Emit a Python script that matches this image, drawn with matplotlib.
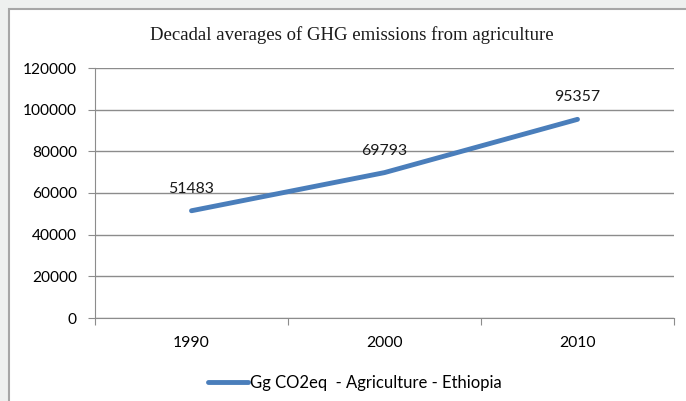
import matplotlib.pyplot as plt
from matplotlib.patches import Rectangle

# --- Data ---
years = ['1990', '2000', '2010']
emissions = [51483, 69793, 95357]
series_name = 'Gg CO2eq  - Agriculture - Ethiopia'
chart_title = 'Decadal averages of GHG emissions from agriculture'

fig = plt.figure(figsize=(6.86, 4.01), dpi=100)
fig.patch.set_facecolor('#eef0ef')

# white chart box with grey border (Excel style)
fig.patches.append(Rectangle((9 / 686, -0.05), 1.0, (401 - 9) / 401 + 0.05,
                             transform=fig.transFigure, facecolor='white',
                             edgecolor='#a6a6a6', linewidth=1.5, zorder=-10))

ax = fig.add_axes([95 / 686, 83 / 401, 579 / 686, 250 / 401])
ax.set_facecolor('none')
x = list(range(len(years)))
ax.plot(x, emissions, color='#4a7ebb', linewidth=3.5, solid_capstyle='round', zorder=3)

for xi, val in zip(x, emissions):
    ax.annotate(str(val), (xi, val), xytext=(0, 13), textcoords='offset points',
                ha='center', va='baseline', fontsize=11.4, family='Lato', color='#1a1a1a')

ax.set_xlim(-0.5, len(years) - 0.5)
ax.set_ylim(0, 120000)
ax.set_yticks(range(0, 120001, 20000))
ax.set_yticklabels([str(v) for v in range(0, 120001, 20000)], fontsize=11.2, family='Lato')
ax.grid(axis='y', color='#8c8c8c', linewidth=1.0)
ax.set_axisbelow(True)

# category labels between boundary tick marks
ax.set_xticks([i - 0.5 for i in range(len(years) + 1)])
ax.set_xticklabels([])
ax.set_xticks(x, minor=True)
ax.set_xticklabels(years, minor=True, fontsize=11.3, family='Lato')
ax.tick_params(axis='x', which='minor', length=0, pad=13)
ax.tick_params(axis='x', which='major', length=5, color='#8c8c8c')
ax.tick_params(axis='y', length=5, color='#8c8c8c', pad=8)

for side in ['top', 'right']:
    ax.spines[side].set_visible(False)
for side in ['left', 'bottom']:
    ax.spines[side].set_color('#8c8c8c')

fig.text(352 / 686, 1 - 35 / 401, chart_title, ha='center', va='center',
         fontsize=13.5, family='Liberation Serif', color='#1a1a1a')

leg = ax.legend([series_name], loc='center', bbox_to_anchor=(0.449, -0.26),
                frameon=False, handlelength=2.4, handletextpad=0.1,
                prop={'family': 'Lato', 'size': 12})

fig.savefig('out.png', dpi=100, facecolor=fig.get_facecolor())
